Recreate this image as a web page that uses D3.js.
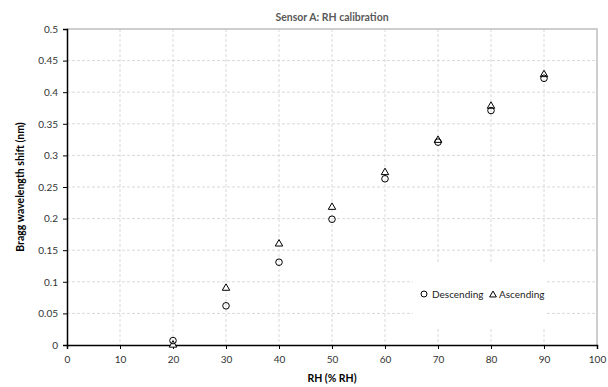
<!DOCTYPE html>
<html><head><meta charset="utf-8">
<script src="https://cdn.jsdelivr.net/npm/d3@7"></script>
<style>body{margin:0;background:#fff}svg{display:block}text{font-family:Lato,"Open Sans",sans-serif}</style>
</head><body><svg id="c" width="608" height="387"></svg>
<script>
const rh = [20,30,40,50,60,70,80,90];
const descending = [0.007,0.062,0.131,0.199,0.263,0.321,0.371,0.422];
const ascending = [0.000,0.090,0.160,0.218,0.273,0.324,0.378,0.428];
const xTicks = [0,10,20,30,40,50,60,70,80,90,100];
const yTicks = [0,0.05,0.1,0.15,0.2,0.25,0.3,0.35,0.4,0.45,0.5];

const svg = d3.select("#c");
const L=67,R=597,T=29,B=345;
const x = d3.scaleLinear().domain([0,100]).range([L,R]);
const y = d3.scaleLinear().domain([0,0.5]).range([B,T]);

// grid
svg.append("g").selectAll("line").data(yTicks.slice(1,-1)).join("line")
  .attr("x1",L).attr("x2",R).attr("y1",d=>y(d)).attr("y2",d=>y(d))
  .attr("stroke","#d9d9d9").attr("stroke-dasharray","3,2");
svg.append("g").selectAll("line").data(xTicks.slice(1,-1)).join("line")
  .attr("y1",T).attr("y2",B).attr("x1",d=>x(d)).attr("x2",d=>x(d))
  .attr("stroke","#d9d9d9").attr("stroke-dasharray","3,2");
// top and right border
svg.append("path").attr("d",`M${L},${T}H${R}V${B}`).attr("fill","none").attr("stroke","#bfbfbf").attr("stroke-width",1.5);

// legend box (occludes grid)
svg.append("rect").attr("x",413).attr("y",262).attr("width",134).attr("height",66).attr("fill","#fff");

// axes
const xa = svg.append("g").attr("transform",`translate(0,${B})`)
  .call(d3.axisBottom(x).tickValues(xTicks).tickSize(4).tickFormat(d3.format("d")));
const ya = svg.append("g").attr("transform",`translate(${L},0)`)
  .call(d3.axisLeft(y).tickValues(yTicks).tickSize(4).tickFormat(d=>d===0?"0":String(+d.toFixed(2))));
[xa,ya].forEach(g=>{
  g.select(".domain").attr("stroke","#000").attr("stroke-width",1.5);
  g.selectAll(".tick line").attr("stroke","#000");
  g.selectAll("text").attr("font-size",10).attr("fill","#333").style("font-family","Lato,'Open Sans',sans-serif");
});
xa.selectAll("text").attr("dy","1.1em");
ya.selectAll("text").attr("dx","-0.2em");

// markers
const tri = d3.symbol().type(d3.symbolTriangle).size(24);
svg.append("g").selectAll("path").data(rh.map((r,i)=>[r,ascending[i]])).join("path")
  .attr("d",tri).attr("transform",d=>`translate(${x(d[0])},${y(d[1])})`)
  .attr("fill","#fff").attr("stroke","#000").attr("stroke-width",1);
svg.append("g").selectAll("circle").data(rh.map((r,i)=>[r,descending[i]])).join("circle")
  .attr("cx",d=>x(d[0])).attr("cy",d=>y(d[1])).attr("r",3.3)
  .attr("fill","none").attr("stroke","#000").attr("stroke-width",1);

// legend
svg.append("circle").attr("cx",424).attr("cy",294).attr("r",3).attr("fill","none").attr("stroke","#000");
svg.append("text").attr("x",432).attr("y",298).attr("font-size",10).attr("fill","#222").text("Descending");
svg.append("path").attr("d",d3.symbol().type(d3.symbolTriangle).size(20)).attr("transform","translate(493,295)")
  .attr("fill","#fff").attr("stroke","#000");
svg.append("text").attr("x",499).attr("y",298).attr("font-size",10).attr("fill","#222").text("Ascending");

// titles
svg.append("text").attr("x",332).attr("y",21).attr("text-anchor","middle").attr("font-size",10.5)
  .attr("font-weight","bold").attr("fill","#595959").text("Sensor A: RH calibration");
svg.append("text").attr("x",332).attr("y",382).attr("text-anchor","middle").attr("font-size",10.5)
  .attr("font-weight","bold").attr("fill","#000").text("RH (% RH)");
svg.append("text").attr("transform","translate(24,187) rotate(-90)").attr("text-anchor","middle").attr("font-size",10.5)
  .attr("font-weight","bold").attr("fill","#000").text("Bragg wavelength shift (nm)");
</script></body></html>
